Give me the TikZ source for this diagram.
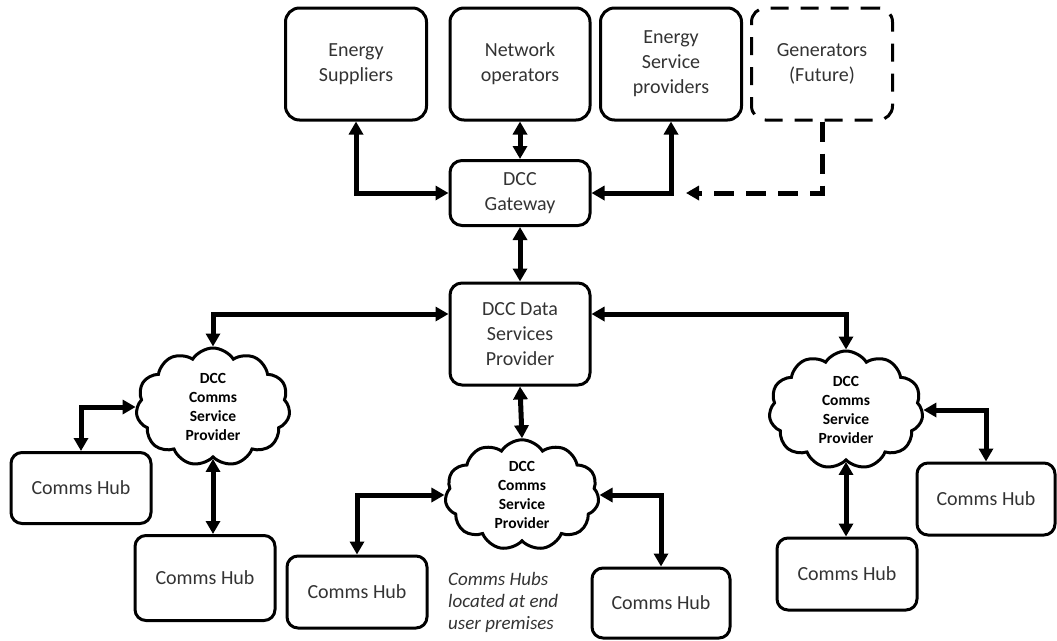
\documentclass[tikz,border=0pt]{standalone}
\usepackage{fontspec}
\setmainfont{Carlito}
\usetikzlibrary{arrows.meta, shapes.symbols}
\tikzset{
	party/.style={rectangle, rounded corners=14pt, draw=black, line width=3pt, align=center, minimum width=141pt, minimum height=112pt, text=black!80, font=\fontsize{20}{25}\selectfont},
	futureparty/.style={party, dash pattern=on 18pt off 12pt},
	dccbox/.style={rectangle, rounded corners=12pt, draw=black, line width=3pt, align=center, minimum width=140pt, text=black!80, font=\fontsize{20}{25}\selectfont},
	hub/.style={rectangle, rounded corners=11pt, draw=black, line width=3pt, align=center, minimum width=140pt, minimum height=71pt, text=black!80, font=\fontsize{20}{25}\selectfont},
	csp/.style={cloud, cloud puffs=11, cloud puff arc=115, aspect=1.3, draw=black, line width=3pt, align=center, minimum width=154pt, minimum height=118pt, inner sep=0pt, font=\bfseries\fontsize{15.5}{19}\selectfont},
	note/.style={align=left, anchor=north west, inner sep=0pt, text=black!80, font=\itshape\fontsize{19}{22}\selectfont},
	dbl/.style={{Triangle[length=13pt,width=14pt]}-{Triangle[length=13pt,width=14pt]}, line width=5pt},
	dasharrow/.style={-{Triangle[length=13pt,width=14pt]}, line width=5pt, dash pattern=on 20pt off 12pt},
}
\begin{document}
\begin{tikzpicture}[x=1pt, y=-1pt]
	\useasboundingbox (0,0) rectangle (1057,640);
	% market participants
	\node[party] (sup) at (356,64) {Energy\\Suppliers};
	\node[party, minimum width=140pt] (netop) at (520,64) {Network\\operators};
	\node[party] (esp) at (671,64) {Energy\\Service\\providers};
	\node[futureparty] (gen) at (822,64) {Generators\\(Future)};
	% DCC
	\node[dccbox, minimum height=65pt] (gw) at (520,193) {DCC\\Gateway};
	\node[dccbox, minimum height=102pt] (dsp) at (520,334) {DCC Data\\Services\\Provider};
	\coordinate (genend) at (686,193);
	% comms service providers
	\node[csp] (csp1) at (213,407) {DCC\\Comms\\Service\\Provider};
	\node[csp, minimum height=110pt] (csp2) at (522,495) {DCC\\Comms\\Service\\Provider};
	\node[csp] (csp3) at (846,410) {DCC\\Comms\\Service\\Provider};
	% comms hubs
	\node[hub] (hub1) at (81,488) {Comms Hub};
	\node[hub, minimum height=85pt] (hub2) at (205,578) {Comms Hub};
	\node[hub, minimum height=72pt] (hub3) at (357,592) {Comms Hub};
	\node[hub, minimum width=138pt, minimum height=70pt] (hub4) at (661,603) {Comms Hub};
	\node[hub, minimum height=72pt] (hub5) at (847,574) {Comms Hub};
	\node[hub, minimum width=138pt, minimum height=72pt] (hub6) at (986,499) {Comms Hub};
	\node[note] (premises) at (448,572) {Comms Hubs\\located at end\\user premises};
	% links
	\draw[dbl] (sup.south) |- (gw.west);
	\draw[dbl] (netop.south) -- (gw.north);
	\draw[dbl] (esp.south) |- (gw.east);
	\draw[dasharrow] (gen.south) |- (genend);
	\draw[dbl] (gw.south) -- (dsp.north);
	\draw[dbl] ([yshift=20pt]dsp.west) -| (csp1.north);
	\draw[dbl] ([yshift=20pt]dsp.east) -| (csp3.north);
	\draw[dbl] (dsp.south) -- (csp2.north);
	\draw[dbl] (csp1.west) -| (hub1.north);
	\draw[dbl] (csp1.south) -- (csp1.south |- hub2.north);
	\draw[dbl] (csp2.west) -| (hub3.north);
	\draw[dbl] (csp2.east) -| (hub4.north);
	\draw[dbl] (csp3.east) -| (hub6.north);
	\draw[dbl] (csp3.south) -- (csp3.south |- hub5.north);
\end{tikzpicture}
\end{document}
